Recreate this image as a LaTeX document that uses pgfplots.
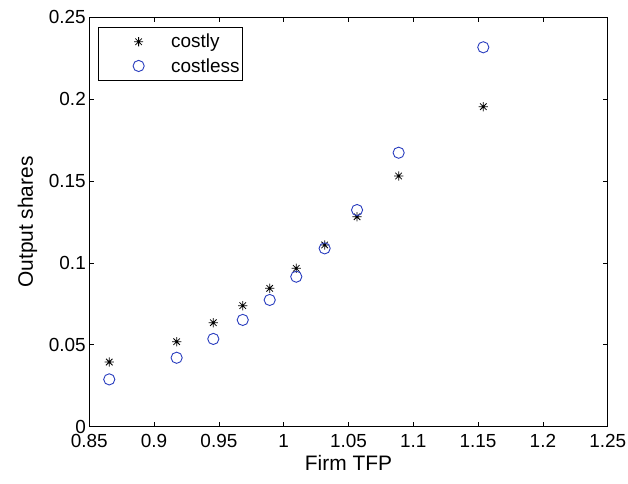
\documentclass[border=0pt]{standalone}
\usepackage{fontspec}
\setmainfont{Liberation Sans}
\usepackage{pgfplots}
\pgfplotsset{compat=1.18}

\definecolor{mblue}{RGB}{40,60,190}

% MATLAB-like eight-armed asterisk
\pgfdeclareplotmark{mstar}{%
  \pgfpathmoveto{\pgfqpoint{-\pgfplotmarksize}{0pt}}%
  \pgfpathlineto{\pgfqpoint{\pgfplotmarksize}{0pt}}%
  \pgfpathmoveto{\pgfqpoint{0pt}{-\pgfplotmarksize}}%
  \pgfpathlineto{\pgfqpoint{0pt}{\pgfplotmarksize}}%
  \pgfpathmoveto{\pgfqpoint{-0.707\pgfplotmarksize}{-0.707\pgfplotmarksize}}%
  \pgfpathlineto{\pgfqpoint{0.707\pgfplotmarksize}{0.707\pgfplotmarksize}}%
  \pgfpathmoveto{\pgfqpoint{-0.707\pgfplotmarksize}{0.707\pgfplotmarksize}}%
  \pgfpathlineto{\pgfqpoint{0.707\pgfplotmarksize}{-0.707\pgfplotmarksize}}%
  \pgfusepathqstroke}

% legend entry: wide blank cell with the marker placed inside it
\pgfplotsset{mleg/.style={legend image code/.code={%
  \path[draw=none] (0bp,0bp) -- (70bp,0bp);
  \draw[mark repeat=2, mark phase=2, ##1] plot coordinates {(0bp,0bp)(39bp,0bp)(78bp,0bp)};}}}

\begin{document}
\begin{tikzpicture}[font=\fontsize{19}{22}\selectfont]
  \useasboundingbox (-89.3bp,-57.3bp) rectangle (538.7bp,426.7bp);
  \begin{axis}[
    width=518.4bp, height=409.4bp, scale only axis,
    xmin=0.85, xmax=1.25, ymin=0, ymax=0.25,
    xtick={0.85,0.9,0.95,1,1.05,1.1,1.15,1.2,1.25},
    ytick={0,0.05,0.1,0.15,0.2,0.25},
    scaled ticks=false,
    /pgf/number format/assume math mode=true,
    /pgf/number format/fixed, /pgf/number format/precision=2,
    tick label style={font=\fontsize{19}{22}\selectfont},
    xticklabel style={yshift=-4bp},
    tick align=inside, xtick pos=both, ytick pos=both,
    major tick length=5bp,
    axis line style={line width=1bp},
    tick style={line width=0.8bp, black},
    xlabel={Firm TFP}, ylabel={Output shares},
    label style={font=\fontsize{21}{24}\selectfont},
    xlabel style={yshift=-1bp},
    ylabel style={yshift=5bp},
    legend style={at={(0,1)}, anchor=north west, xshift=8.4bp, yshift=-9.4bp,
      draw=black, line width=0.9bp, inner xsep=1.5bp, inner ysep=5.5bp,
      row sep=6bp, font=\fontsize{19}{22}\selectfont,
      nodes={inner sep=1.5bp, anchor=west}},
    legend cell align=left,
  ]
    \addplot[only marks, mleg, mark=mstar, mark size=4.6bp, black, line width=0.8bp] coordinates {
      (0.8654,0.0395) (0.9174,0.0519) (0.9457,0.0635) (0.9684,0.0739)
      (0.9892,0.0845) (1.0097,0.0967) (1.0316,0.1110) (1.0566,0.1282)
      (1.0887,0.1531) (1.1540,0.1954)
    };
    \addlegendentry{costly}
    \addplot[only marks, mleg, mark=o, mark size=5.6bp, mblue, line width=0.9bp] coordinates {
      (0.8654,0.0289) (0.9174,0.0421) (0.9457,0.0536) (0.9684,0.0652)
      (0.9892,0.0774) (1.0097,0.0916) (1.0316,0.1089) (1.0566,0.1323)
      (1.0887,0.1673) (1.1540,0.2317)
    };
    \addlegendentry{costless}
  \end{axis}
\end{tikzpicture}
\end{document}
